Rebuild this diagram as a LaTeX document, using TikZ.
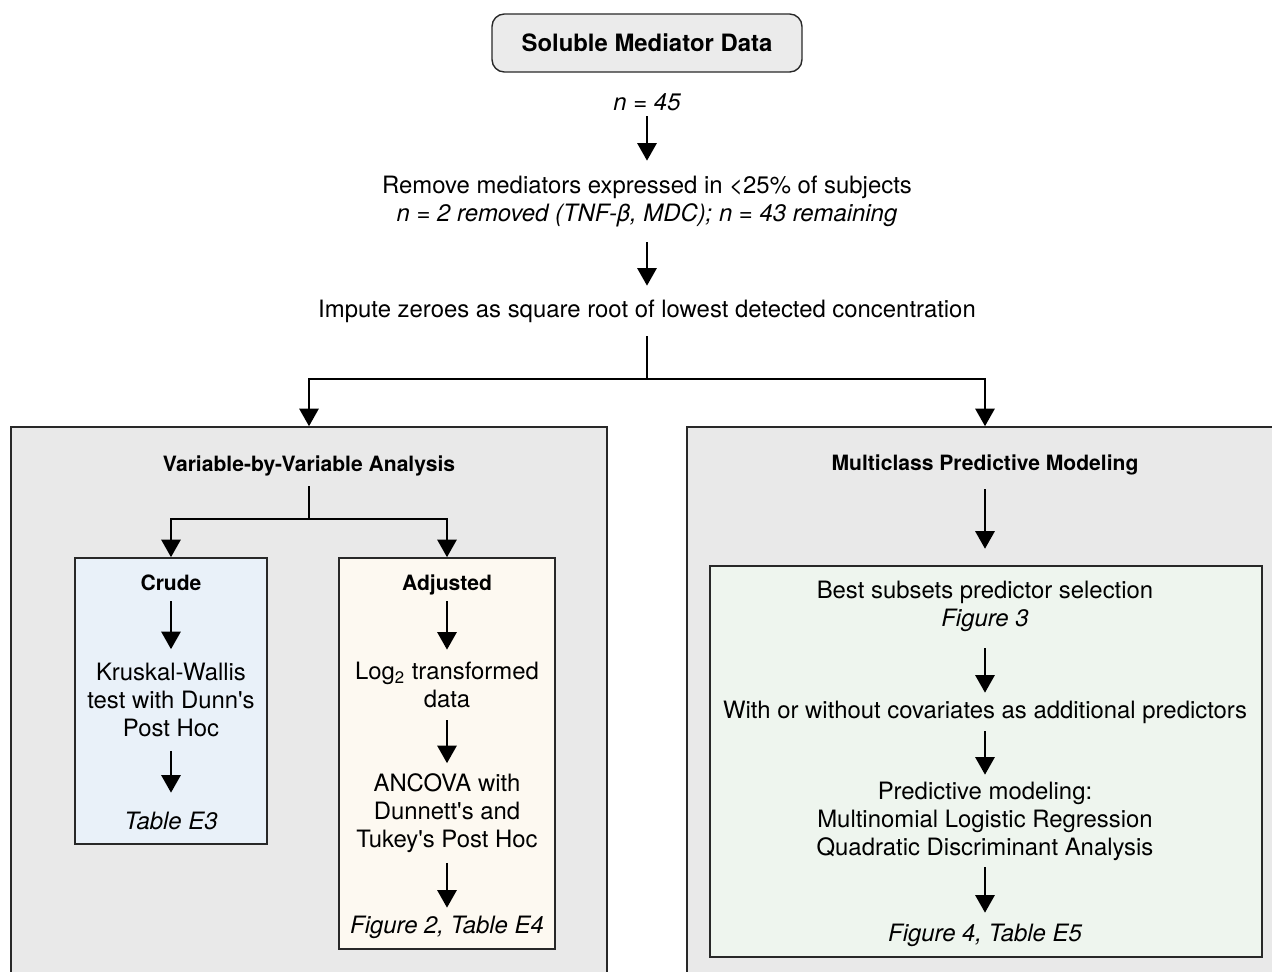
\documentclass[tikz,border=0pt]{standalone}
\usepackage{fontspec}
\setmainfont{TeX Gyre Heros}
\usepackage{tikz}
\usetikzlibrary{arrows.meta,calc}
\definecolor{boxgray}{RGB}{233,233,233}
\definecolor{titlegray}{RGB}{235,235,235}
\definecolor{crudeblue}{HTML}{E9F1F9}
\definecolor{adjcream}{HTML}{FDF9F1}
\definecolor{modgreen}{HTML}{EEF5EE}
\definecolor{edgegray}{RGB}{40,40,40}

\begin{document}
\begin{tikzpicture}[x=0.02cm, y=-0.02cm,
	every node/.style={inner sep=0pt, align=center, font=\fontsize{13.6}{16}\selectfont},
	arr/.style={-{Triangle[width=11pt,length=10pt]}, line width=1.1pt},
	lbl/.style={minimum height=#1},
	head/.style={font=\fontsize{12}{15}\selectfont\bfseries, text height=8.6pt, text depth=2.5pt},
	titlebox/.style={draw=edgegray, line width=0.8pt, fill=titlegray, rounded corners=7pt,
	                 minimum width=6.2cm, minimum height=1.16cm, font=\fontsize{13.6}{16}\selectfont\bfseries},
	mainbox/.style={draw=edgegray, line width=1pt, fill=boxgray, minimum width=11.92cm, minimum height=12cm},
	subbox/.style={draw=edgegray, line width=1pt}]

	\useasboundingbox (0,0) rectangle (1272,971);
	\clip (0,0) rectangle (1272,971);

	\node[titlebox]     (src)     at (647,43)    {Soluble Mediator Data};
	\node[lbl=0.56cm]   (n45)     at (647,102)   {\itshape n = 45};
	\node[lbl=1.62cm]   (remove)  at (647,201.5) {Remove mediators expressed in \textless 25\% of subjects\\
	                                              {\itshape n = 2 removed (TNF-β, MDC); n = 43 remaining}};
	\node[lbl=1.0cm]    (impute)  at (647,311)   {Impute zeroes as square root of lowest detected concentration};

	\node[mainbox] (varbox) at (309,727) {};
	\node[mainbox] (modbox) at (985,727) {};

	\draw[arr] (n45.south)    -- (remove.north);
	\draw[arr] (remove.south) -- (impute.north);
	\draw[arr] (impute.south) -- ++(0,43) -| (varbox.north);
	\draw[arr] (impute.south) -- ++(0,43) -| (modbox.north);

	\node[head, lbl=0.8cm] (varhead) at (309,466) {Variable-by-Variable Analysis};
	\node[subbox, fill=crudeblue, minimum width=3.84cm, minimum height=5.72cm] (crude)    at (171,701)   {};
	\node[subbox, fill=adjcream,  minimum width=4.32cm, minimum height=7.82cm] (adjusted) at (447,753.5) {};
	\draw[arr] (varhead.south) -- ++(0,33) -| (crude.north);
	\draw[arr] (varhead.south) -- ++(0,33) -| (adjusted.north);

	\node[head, lbl=0.64cm] (crudehead) at (171,585)   {Crude};
	\node[lbl=2.02cm]       (kruskal)   at (171,700)   {Kruskal-Wallis\\test with Dunn\textquotesingle s\\Post Hoc};
	\node[lbl=1.12cm]       (tableE3)   at (171,821)   {\itshape Table E3};
	\draw[arr] (crudehead.south) -- (kruskal.north);
	\draw[arr] (kruskal.south)   -- (tableE3.north);

	\node[head, lbl=0.64cm] (adjhead) at (447,585) {Adjusted};
	\node[lbl=1.4cm]        (logtwo)  at (447,685) {Log\textsubscript{2} transformed\\data};
	\node[lbl=1.98cm]       (ancova)  at (447,813) {ANCOVA with\\Dunnett\textquotesingle s and\\Tukey\textquotesingle s Post Hoc};
	\node[lbl=0.76cm]       (figtwo)  at (447,927) {\itshape Figure 2, Table E4};
	\draw[arr] (adjhead.south) -- (logtwo.north);
	\draw[arr] (logtwo.south)  -- (ancova.north);
	\draw[arr] (ancova.south)  -- (figtwo.north);

	\node[head, lbl=0.96cm] (modhead) at (985,465) {Multiclass Predictive Modeling};
	\node[subbox, fill=modgreen, minimum width=11.04cm, minimum height=7.82cm] (predbox) at (986,761.5) {};
	\node[lbl=1.68cm] (best)       at (985,606)   {Best subsets predictor selection\\{\itshape Figure 3}};
	\node[lbl=0.76cm] (covar)      at (985,712)   {With or without covariates as additional predictors};
	\node[lbl=1.84cm] (predictive) at (985,821)   {Predictive modeling:\\Multinomial Logistic Regression\\Quadratic Discriminant Analysis};
	\node[lbl=0.88cm] (figfour)    at (985,935)   {\itshape Figure 4, Table E5};
	\draw[arr, shorten >=8.5pt] (modhead.south) -- (best.north);
	\draw[arr] (best.south)    -- (covar.north);
	\draw[arr] (covar.south)   -- (predictive.north);
	\draw[arr] (predictive.south) -- (figfour.north);
\end{tikzpicture}
\end{document}
